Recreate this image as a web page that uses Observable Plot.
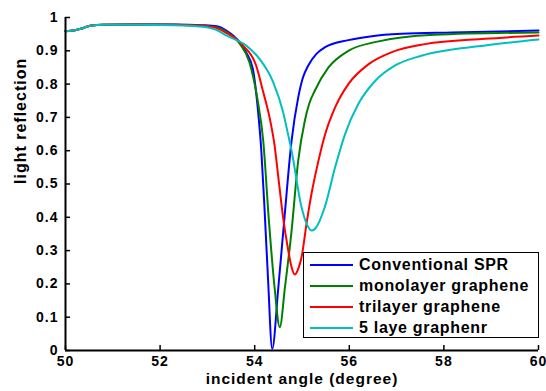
<!DOCTYPE html>
<html>
<head>
<meta charset="utf-8">
<script src="https://cdn.jsdelivr.net/npm/d3@7"></script>
<script src="https://cdn.jsdelivr.net/npm/@observablehq/plot@0.6"></script>
<style>
  html, body { margin: 0; padding: 0; background: #fff; }
  #wrap { position: relative; width: 546px; height: 391px; font-family: "Liberation Sans", Arial, sans-serif; }
  #legend { position: absolute; left: 303px; top: 252px; width: 236px; height: 86px; box-sizing: border-box;
            border: 1.5px solid #000; background: #fff; padding-top: 1px; }
  .row { display: flex; align-items: center; height: 21px; }
  .sw { width: 43px; height: 2px; margin-left: 6px; }
  .lab { margin-left: 6px; font-size: 16px; font-weight: bold; letter-spacing: 0.7px; color: #000; white-space: nowrap; }
</style>
</head>
<body>
<div id="wrap"></div>
<script>
const seriesNames = ["Conventional SPR", "monolayer graphene", "trilayer graphene", "5 laye graphenr"];
const seriesColors = ["#0000ff", "#008000", "#ff0000", "#00bfbf"];
const xTicks = [50, 52, 54, 56, 58, 60];
const yTicks = [0, 0.1, 0.2, 0.3, 0.4, 0.5, 0.6, 0.7, 0.8, 0.9, 1];
const xLabel = "incident angle (degree)";
const yLabel = "light reflection";

const angleBlue = [50, 50.2, 50.32, 50.45, 50.55, 50.8, 51.5, 52.3, 52.9, 53.2, 53.4, 53.68, 53.82, 53.96, 54.07, 54.14, 54.21, 54.28, 54.37, 54.5, 54.63, 54.78, 54.92, 55.02, 55.13, 55.3, 55.48, 55.98, 56.48, 57.11, 58.17, 60];
const reflBlue  = [0.959, 0.962, 0.966, 0.972, 0.976, 0.978, 0.979, 0.979, 0.977, 0.974, 0.961, 0.926, 0.895, 0.846, 0.72, 0.60, 0.42, 0.22, 0.005, 0.19, 0.40, 0.63, 0.76, 0.82, 0.855, 0.89, 0.91, 0.932, 0.944, 0.951, 0.955, 0.961];

const angleGreen = [50, 50.2, 50.32, 50.45, 50.55, 50.8, 51.5, 52.3, 52.9, 53.2, 53.4, 53.68, 53.89, 54.07, 54.18, 54.3, 54.42, 54.53, 54.64, 54.78, 54.92, 55.06, 55.15, 55.27, 55.56, 55.98, 56.54, 57.8, 60];
const reflGreen  = [0.959, 0.962, 0.966, 0.972, 0.976, 0.978, 0.979, 0.978, 0.975, 0.970, 0.957, 0.922, 0.865, 0.745, 0.63, 0.39, 0.19, 0.07, 0.19, 0.36, 0.57, 0.69, 0.74, 0.78, 0.85, 0.90, 0.926, 0.948, 0.955];

const angleRed = [50, 50.2, 50.32, 50.45, 50.55, 50.8, 51.5, 52.3, 52.9, 53.2, 53.4, 53.75, 54.03, 54.18, 54.32, 54.42, 54.5, 54.6, 54.71, 54.78, 54.85, 54.92, 54.99, 55.1, 55.2, 55.34, 55.48, 55.7, 55.98, 56.41, 56.9, 57.6, 58.87, 60];
const reflRed  = [0.959, 0.962, 0.966, 0.972, 0.976, 0.978, 0.979, 0.978, 0.975, 0.968, 0.954, 0.916, 0.856, 0.776, 0.696, 0.616, 0.52, 0.40, 0.30, 0.25, 0.228, 0.245, 0.28, 0.385, 0.47, 0.565, 0.645, 0.73, 0.80, 0.86, 0.896, 0.92, 0.936, 0.946];

const angleCyan = [50, 50.2, 50.32, 50.45, 50.55, 50.8, 51.5, 52.3, 52.9, 53.2, 53.4, 53.82, 54.1, 54.39, 54.6, 54.71, 54.78, 54.99, 55.1, 55.2, 55.3, 55.48, 55.7, 55.91, 56.19, 56.55, 56.97, 57.54, 58.87, 60];
const reflCyan  = [0.959, 0.962, 0.966, 0.972, 0.976, 0.978, 0.978, 0.977, 0.972, 0.962, 0.946, 0.916, 0.876, 0.806, 0.716, 0.646, 0.60, 0.43, 0.38, 0.36, 0.37, 0.43, 0.55, 0.65, 0.74, 0.81, 0.856, 0.886, 0.916, 0.934];

const angles = [angleBlue, angleGreen, angleRed, angleCyan];
const refls = [reflBlue, reflGreen, reflRed, reflCyan];
const rows = [];
seriesNames.forEach((name, s) => {
  angles[s].forEach((a, i) => rows.push({series: name, angle: a, refl: refls[s][i]}));
});

const chart = Plot.plot({
  width: 546,
  height: 391,
  marginLeft: 65,
  marginRight: 8,
  marginTop: 17,
  marginBottom: 41,
  style: {fontFamily: "'Liberation Sans', Arial, sans-serif", fontWeight: "bold", fontSize: "14px", letterSpacing: "1px", color: "#000", background: "#fff"},
  x: {domain: [50, 60]},
  y: {domain: [0, 1]},
  color: {domain: seriesNames, range: seriesColors},
  marks: [
    Plot.axisX({ticks: xTicks, tickSize: 0, tickPadding: 6, label: null, tickFormat: d => String(d)}),
    Plot.axisY({ticks: yTicks, tickSize: 0, tickPadding: 7, label: null, tickFormat: d => String(d)}),
    Plot.tickX(xTicks, {x: d => d, insetTop: 328, stroke: "#000", strokeWidth: 1.5}),
    Plot.tickY(yTicks, {y: d => d, insetRight: 468, stroke: "#000", strokeWidth: 1.5}),
    Plot.line(rows, {x: "angle", y: "refl", stroke: "series", curve: "monotone-x", strokeWidth: 2}),
    Plot.ruleX([50], {stroke: "#000", strokeWidth: 2}),
    Plot.ruleY([0], {stroke: "#000", strokeWidth: 2}),
    Plot.text([xLabel], {frameAnchor: "bottom", dy: 33, fontSize: 15.5, letterSpacing: "0.8px"}),
    Plot.text([yLabel], {frameAnchor: "left", rotate: -90, dx: -45, fontSize: 16, letterSpacing: "0.7px"})
  ]
});

const wrap = document.getElementById("wrap");
wrap.appendChild(chart);
const legend = document.createElement("div");
legend.id = "legend";
seriesNames.forEach((name, i) => {
  const row = document.createElement("div");
  row.className = "row";
  const sw = document.createElement("span");
  sw.className = "sw";
  sw.style.background = seriesColors[i];
  const lab = document.createElement("span");
  lab.className = "lab";
  lab.textContent = name;
  row.appendChild(sw);
  row.appendChild(lab);
  legend.appendChild(row);
});
wrap.appendChild(legend);
</script>
</body>
</html>
